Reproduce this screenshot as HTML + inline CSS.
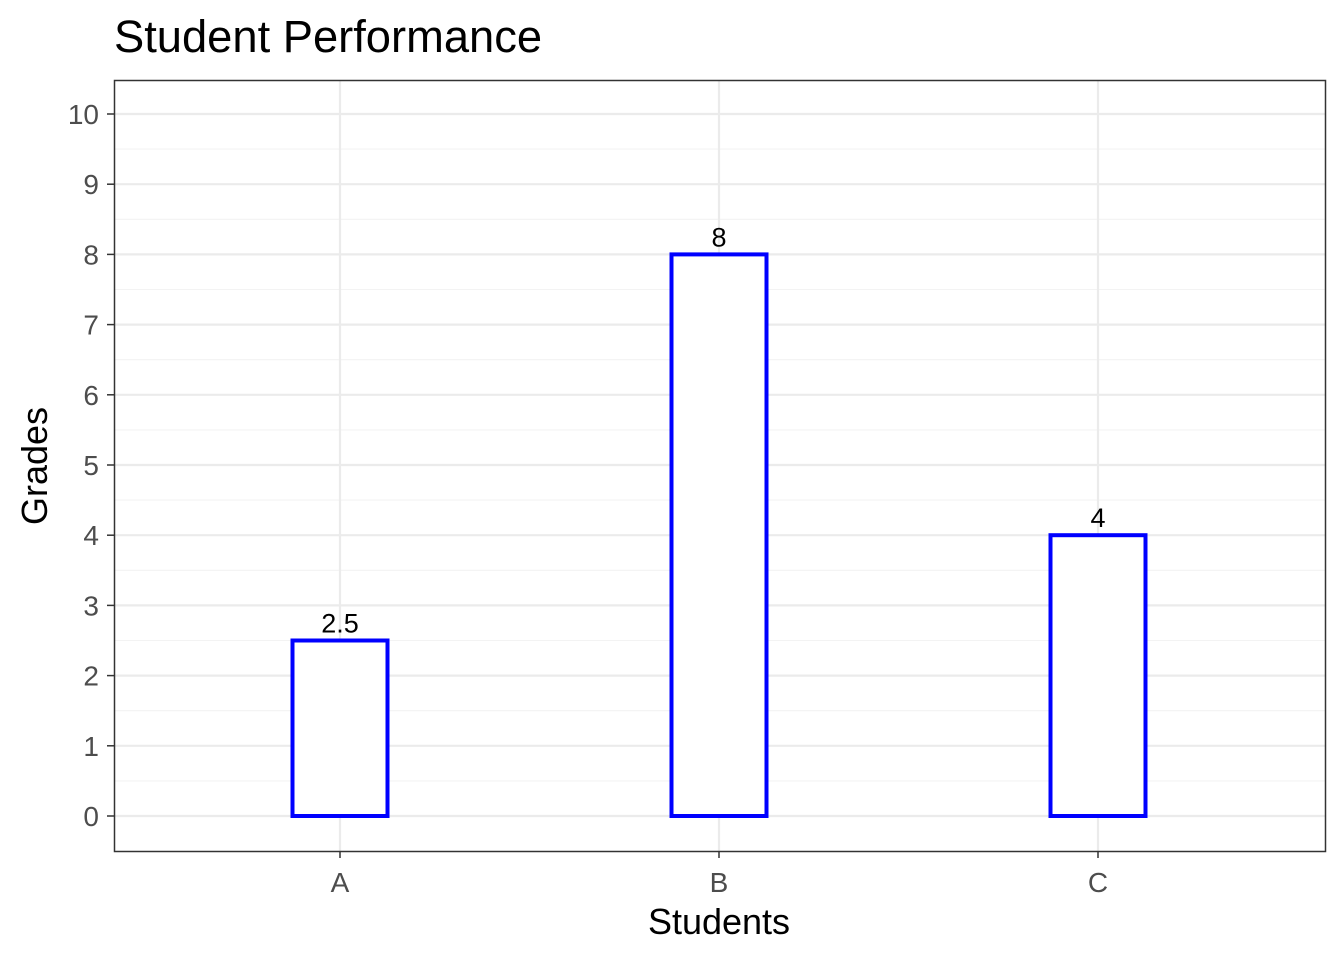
<!DOCTYPE html>
<html><head><meta charset="utf-8"><style>
body{margin:0;background:#fff;}
svg{display:block;font-family:"Liberation Sans",Arial,sans-serif;}
</style></head><body>
<svg id="chart" width="1344" height="960">
<text x="114" y="52" font-size="45.3" fill="#000">Student Performance</text>
<g id="grid"></g>
<g id="bars"></g>
<rect x="114.5" y="80.5" width="1211" height="771" fill="none" stroke="#333" stroke-width="1.5"/>
<g id="axes"></g>
<text x="719" y="934" font-size="36" text-anchor="middle" fill="#000">Students</text>
<text transform="translate(47,466) rotate(-90)" font-size="36" text-anchor="middle" fill="#000">Grades</text>
</svg>
<script>
const categories=["A","B","C"];
const grades=[2.5,8,4];
const valueLabels=["2.5","8","4"];
const yTicks=[0,1,2,3,4,5,6,7,8,9,10];
const NS="http://www.w3.org/2000/svg";
const L=114,R=1325,T=80,B=851;
function y(v){return 816-(v/10)*(816-114);}
function x(i){return 340+i*379;}
function mk(t,a,p){const e=document.createElementNS(NS,t);for(const k in a)e.setAttribute(k,a[k]);p.appendChild(e);return e;}
const g=document.getElementById('grid'),bg=document.getElementById('bars'),ax=document.getElementById('axes');
for(let i=0;i<yTicks.length;i++){
 const v=yTicks[i];
 const l=mk('line',{x1:L,x2:R,y1:y(v),y2:y(v),stroke:'#ebebeb','stroke-width':2.2},g);
 
 
 if(i<yTicks.length-1){
 const m=mk('line',{x1:L,x2:R,y1:y(v+0.5),y2:y(v+0.5),stroke:'#f3f3f3','stroke-width':1.1},g);
 
 }
 const t=mk('line',{x1:107,x2:114,y1:y(v),y2:y(v),stroke:'#333','stroke-width':1.5},ax);
 
 
 const tx=mk('text',{x:99,y:y(v)+10,'font-size':28,'text-anchor':'end',fill:'#4d4d4d'},ax);
 tx.textContent=v;
 
 
}
for(let i=0;i<categories.length;i++){
 const cx=x(i);
 const gl=mk('line',{x1:cx,x2:cx,y1:T,y2:B,stroke:'#ebebeb','stroke-width':2.2},g);
 
 
 const r=mk('rect',{x:cx-47.5,y:y(grades[i]),width:95,height:y(0)-y(grades[i]),fill:'#fff',stroke:'#0000ff','stroke-width':4},bg);
 
 
 const vl=mk('text',{x:cx,y:y(grades[i])-8,'font-size':27,'text-anchor':'middle',fill:'#000'},bg);
 vl.textContent=valueLabels[i];
 
 
 const t=mk('line',{x1:cx,x2:cx,y1:B,y2:B+7,stroke:'#333','stroke-width':1.5},ax);
 
 
 const tx=mk('text',{x:cx,y:892,'font-size':28,'text-anchor':'middle',fill:'#4d4d4d'},ax);
 tx.textContent=categories[i];
 
 
}
</script>
</body></html>
